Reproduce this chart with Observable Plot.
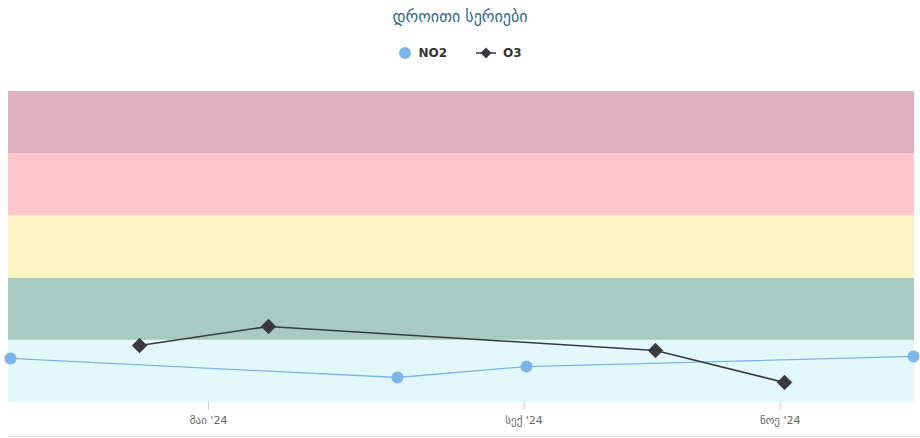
<!DOCTYPE html>
<html>
<head>
<meta charset="utf-8">
<script src="https://cdn.jsdelivr.net/npm/d3@7"></script>
<script src="https://cdn.jsdelivr.net/npm/@observablehq/plot@0.6"></script>
<style>
  html, body { margin: 0; padding: 0; background: #fff; }
  body { width: 920px; height: 438px; position: relative; overflow: hidden; font-family: "DejaVu Sans", "Noto Sans", sans-serif; }
  #header { height: 80px; position: relative; }
  #title { position: absolute; top: 7px; left: 0; width: 920px; text-align: center; font-size: 16px; color: #2f6a8a; }
  #legend { position: absolute; top: 46px; left: 0; width: 920px; display: flex; justify-content: center; gap: 28px; font-size: 12px; font-weight: bold; color: #333; }
  .item { display: flex; align-items: center; gap: 6px; }
  #bottomline { position: absolute; left: 8px; right: 0; top: 436px; height: 1px; background: #ddd; }
</style>
</head>
<body>
<div id="header">
  <div id="title"></div>
  <div id="legend"></div>
</div>
<div id="chart"></div>
<div id="bottomline"></div>
<script>
// ---- data ----
const titleText = "დროითი სერიები";
const seriesNames = ["NO2", "O3"];
const no2Dates = ["2024-03-12", "2024-07-10", "2024-09-02", "2024-12-05"];
const no2Values = [35.4, 20.1, 28.9, 37.0];
const o3Dates = ["2024-04-16", "2024-05-14", "2024-10-03", "2024-11-02"];
const o3Values = [45.8, 61.1, 41.8, 16.1];
const bandEdges = [0, 50, 100, 150, 200, 250];
const tickDates = ["2024-05-01", "2024-09-01", "2024-11-01"];
const tickLabels = ["მაი '24", "სექ '24", "ნოე '24"];

// ---- styles ----
const bandColors = ["#e2f8fa", "#a7cbc1", "#fcf5c3", "#ffc6cb", "#dfb0c0"];
const no2Color = "#7cb5ec";
const o3Color = "#3a3a3e";

// ordinal (evenly spaced) x positions, like a stock chart's ordinal axis
const allDates = Array.from(new Set([...no2Dates, ...o3Dates])).sort();
const parse = d3.utcParse("%Y-%m-%d");
const allTimes = allDates.map(d => +parse(d));
function ordinalPos(dateStr) {
  const t = +parse(dateStr);
  for (let i = 0; i < allTimes.length - 1; i++) {
    if (t >= allTimes[i] && t <= allTimes[i + 1]) {
      return i + (t - allTimes[i]) / (allTimes[i + 1] - allTimes[i]);
    }
  }
  return t < allTimes[0] ? 0 : allTimes.length - 1;
}

const no2 = no2Dates.map((d, i) => ({pos: ordinalPos(d), value: no2Values[i]}));
const o3 = o3Dates.map((d, i) => ({pos: ordinalPos(d), value: o3Values[i]}));
const bands = bandEdges.slice(0, -1).map((lo, i) => ({lo, hi: bandEdges[i + 1], color: bandColors[i]}));
const ticks = tickDates.map((d, i) => ({pos: ordinalPos(d), label: tickLabels[i]}));
const tickPositions = ticks.map(t => t.pos);
const labelOf = new Map(ticks.map(t => [t.pos, t.label]));

document.getElementById("title").textContent = titleText;
document.getElementById("legend").innerHTML = `
  <div class="item"><svg width="14" height="14"><circle cx="7" cy="7" r="6" fill="${no2Color}"/></svg><span>${seriesNames[0]}</span></div>
  <div class="item"><svg width="22" height="14"><line x1="1" y1="7" x2="21" y2="7" stroke="${o3Color}" stroke-width="1.5"/><path d="M11 1.5 L16.5 7 L11 12.5 L5.5 7 Z" fill="${o3Color}"/></svg><span>${seriesNames[1]}</span></div>`;

const chart = Plot.plot({
  width: 920,
  height: 358,
  marginTop: 11,
  marginBottom: 36,
  marginLeft: 8,
  marginRight: 6,
  style: {fontFamily: "DejaVu Sans, sans-serif", fontSize: "11px", color: "#666", background: "transparent"},
  x: {domain: [0, allDates.length - 1], range: [10, 913], label: null},
  y: {domain: [bandEdges[0], bandEdges[bandEdges.length - 1]], axis: null},
  color: {type: "identity"},
  marks: [
    Plot.rect(bands, {y1: "lo", y2: "hi", fill: "color"}),
    Plot.axisX({ticks: tickPositions, tickFormat: d => labelOf.get(d), tickSize: 8, tickPadding: 6, stroke: "#ccc", fill: "#666", fontSize: 11, label: null}),
    Plot.line(no2, {x: "pos", y: "value", stroke: no2Color, strokeWidth: 1.3}),
    Plot.line(o3, {x: "pos", y: "value", stroke: o3Color, strokeWidth: 1.5}),
    Plot.dot(no2, {x: "pos", y: "value", r: 6, fill: no2Color}),
    Plot.dot(o3, {x: "pos", y: "value", r: 6.5, symbol: "diamond2", fill: o3Color, stroke: o3Color, strokeWidth: 1})
  ]
});
document.getElementById("chart").appendChild(chart);
</script>
</body>
</html>
